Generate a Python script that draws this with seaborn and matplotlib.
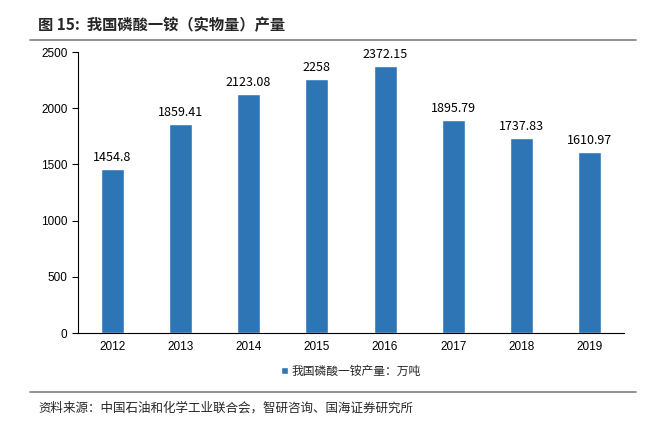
import matplotlib
matplotlib.use("Agg")
import matplotlib.pyplot as plt
import seaborn as sns
import pandas as pd

years = ["2012", "2013", "2014", "2015", "2016", "2017", "2018", "2019"]
output = [1454.8, 1859.41, 2123.08, 2258, 2372.15, 1895.79, 1737.83, 1610.97]
series_name = "我国磷酸一铵产量：万吨"
bar_color = "#2E75B6"

sns.set_theme(style="ticks")
plt.rcParams['font.family'] = ['Noto Sans CJK SC', 'DejaVu Sans']

df = pd.DataFrame({"year": years, "value": output})

fig = plt.figure(figsize=(6.46, 4.23), dpi=100)
ax = fig.add_axes([78 / 646, 1 - 333 / 423, 546 / 646, 281 / 423])

sns.barplot(data=df, x="year", y="value", color=bar_color, width=0.34,
            saturation=1, ax=ax, label=series_name)

for i, v in enumerate(output):
    ax.text(i, v + 45, f"{v:g}", ha="center", va="bottom", fontsize=9,
            color="black")

ax.set_ylim(0, 2500)
ax.set_yticks(range(0, 2501, 500))
ax.set_xlim(-0.5, len(years) - 0.5)
ax.set_xlabel("")
ax.set_ylabel("")
ax.tick_params(axis="both", labelsize=8.5, colors="black", length=4, width=0.8)
ax.tick_params(axis="x", length=0, pad=6)
for lbl in ax.get_xticklabels() + ax.get_yticklabels():
    lbl.set_fontfamily("Liberation Sans")
for s in ["top", "right"]:
    ax.spines[s].set_visible(False)
for s in ["left", "bottom"]:
    ax.spines[s].set_color("black")
    ax.spines[s].set_linewidth(0.8)

ax.legend(loc="upper center", bbox_to_anchor=(0.5, -0.075), frameon=False,
          fontsize=8.5, handlelength=0.6, handleheight=0.6, handletextpad=0.3)

fig.text(38 / 646, 1 - 25 / 423, "图 15:  我国磷酸一铵（实物量）产量", fontsize=11,
         fontweight="bold", va="center", ha="left")
fig.add_artist(plt.Line2D([30 / 646, 636 / 646], [1 - 40 / 423, 1 - 40 / 423],
                          color="#808080", linewidth=1.2))
fig.add_artist(plt.Line2D([30 / 646, 636 / 646], [1 - 392 / 423, 1 - 392 / 423],
                          color="#808080", linewidth=1.2))
fig.text(38 / 646, 1 - 408 / 423, "资料来源：中国石油和化学工业联合会，智研咨询、国海证券研究所",
         fontsize=9, va="center", ha="left")

fig.savefig("out.png", dpi=100)
